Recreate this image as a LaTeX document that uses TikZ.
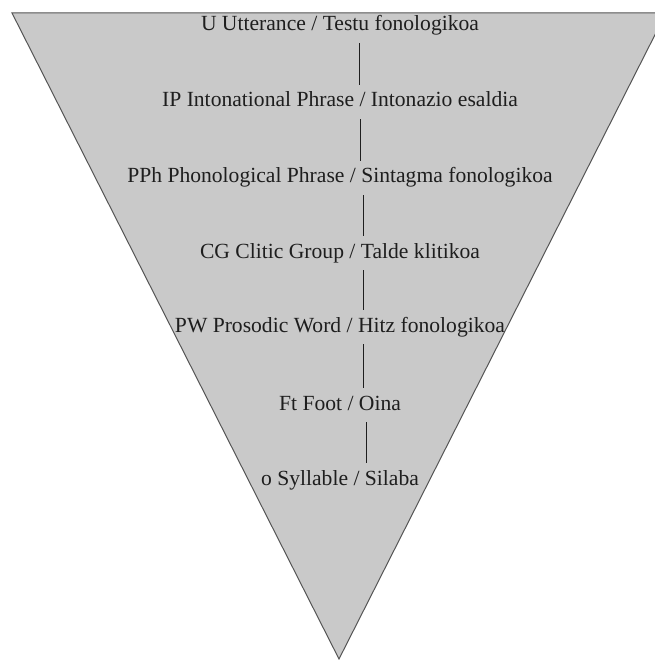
\documentclass[tikz,border=0pt]{standalone}
\usepackage{fontspec}
\setmainfont{Liberation Serif}
\definecolor{trifill}{RGB}{201,201,201}
\definecolor{triedge}{RGB}{85,85,85}
\definecolor{txt}{RGB}{30,30,30}
\begin{document}
\begin{tikzpicture}[x=1pt,y=-1pt,
  lvl/.style={anchor=base, inner sep=0pt, text height=22pt, text depth=12pt,
    font=\fontsize{21.6}{24}\selectfont, text=txt},
  link/.style={draw=txt, line width=0.9pt}]
\useasboundingbox (0,0) rectangle (654,660);
\fill[white] (0,0) rectangle (654,660);
\filldraw[fill=trifill, draw=triedge, line width=1pt] (12,13) -- (666,13) -- (339,659) -- cycle;
\node[lvl] (u)   at (340,31)  {U Utterance / Testu fonologikoa};
\node[lvl] (ip)  at (340,107) {IP Intonational Phrase / Intonazio esaldia};
\node[lvl] (pph) at (340,183) {PPh Phonological Phrase / Sintagma fonologikoa};
\node[lvl] (cg)  at (340,258) {CG Clitic Group / Talde klitikoa};
\node[lvl] (pw)  at (340,332) {PW Prosodic Word / Hitz fonologikoa};
\node[lvl] (ft)  at (340,410) {Ft Foot / Oina};
\node[lvl] (sy)  at (340,485) {o Syllable / Silaba};
\draw[link] ([xshift=19pt]u.south) -- ([xshift=19pt]ip.north);
\draw[link] ([xshift=20pt]ip.south) -- ([xshift=20pt]pph.north);
\draw[link] ([xshift=23pt]pph.south) -- ([xshift=23pt]cg.north);
\draw[link] ([xshift=23pt]cg.south) -- ([xshift=23pt]pw.north);
\draw[link] ([xshift=23pt]pw.south) -- ([xshift=23pt]ft.north);
\draw[link] ([xshift=26pt]ft.south) -- ([xshift=26pt]sy.north);
\end{tikzpicture}
\end{document}
